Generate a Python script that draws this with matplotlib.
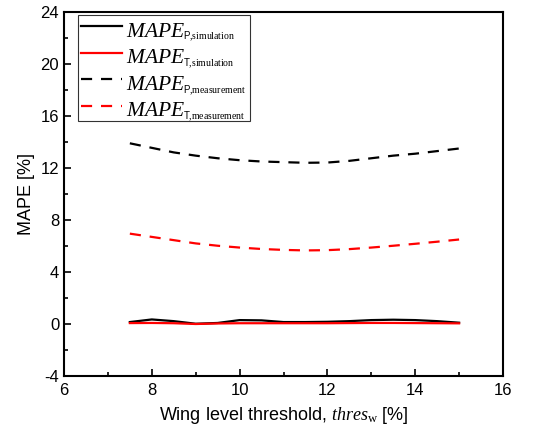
import numpy as np
import matplotlib
matplotlib.use('Agg')
import matplotlib.pyplot as plt
from matplotlib.ticker import MultipleLocator

plt.rcParams['font.family'] = 'Liberation Sans'
plt.rcParams['axes.unicode_minus'] = False
plt.rcParams['mathtext.fontset'] = 'custom'
plt.rcParams['mathtext.it'] = 'Liberation Serif:italic'
plt.rcParams['mathtext.rm'] = 'Liberation Serif'
plt.rcParams['mathtext.sf'] = 'Liberation Sans'

# 閾値 [%]
thres = [7.5, 8.0, 8.5, 9.0, 9.5, 10.0, 10.5, 11.0, 11.5, 12.0, 12.5, 13.0, 13.5, 14.0, 14.5, 15.0]
# シミュレーション
mape_p_sim = [0.15, 0.35, 0.22, 0.02, 0.08, 0.30, 0.28, 0.15, 0.15, 0.17, 0.22, 0.30, 0.33, 0.30, 0.22, 0.10]
mape_t_sim = [0.07, 0.08, 0.06, 0.00, 0.04, 0.06, 0.06, 0.06, 0.06, 0.06, 0.07, 0.08, 0.08, 0.07, 0.06, 0.05]
# 測定
mape_p_meas = [13.9, 13.55, 13.2, 12.95, 12.75, 12.6, 12.5, 12.45, 12.4, 12.42, 12.55, 12.75, 12.95, 13.1, 13.3, 13.5]
mape_t_meas = [6.95, 6.7, 6.45, 6.2, 6.02, 5.88, 5.77, 5.7, 5.66, 5.68, 5.76, 5.88, 6.02, 6.17, 6.33, 6.5]

# 凡例の添字
subs = [r'$\mathsf{P}{,}\mathrm{simulation}$', r'$\mathsf{T}{,}\mathrm{simulation}$',
        r'$\mathsf{P}{,}\mathrm{measurement}$', r'$\mathsf{T}{,}\mathrm{measurement}$']

fig = plt.figure(figsize=(5.38, 4.34), dpi=100, facecolor='white')
ax = fig.add_axes([64/538, 58/434, 439/538, 364/434])

lab = r'$\mathit{MAPE}$'
ax.plot(thres, mape_p_sim, color='black', lw=1.6, label=lab)
ax.plot(thres, mape_t_sim, color='red', lw=1.6, label=lab)
ax.plot(thres, mape_p_meas, color='black', lw=1.6, ls=(0, (5, 4)), label=lab)
ax.plot(thres, mape_t_meas, color='red', lw=1.6, ls=(0, (5, 4)), label=lab)

ax.set_xlim(6, 16)
ax.set_ylim(-4, 24)
ax.xaxis.set_major_locator(MultipleLocator(2))
ax.xaxis.set_minor_locator(MultipleLocator(1))
ax.yaxis.set_major_locator(MultipleLocator(4))
ax.yaxis.set_minor_locator(MultipleLocator(2))
ax.tick_params(which='both', direction='in', labelsize=12)
ax.tick_params(axis='x', which='major', pad=5)
ax.tick_params(which='major', length=5, width=1.2)
ax.tick_params(which='minor', length=3, width=1.2)
for s in ax.spines.values():
    s.set_linewidth(1.5)

ax.set_xlabel(r'Wing level threshold, $\mathit{thres}_{\mathrm{w}}$ [%]', fontsize=13, labelpad=5)
ax.set_ylabel('MAPE [%]', fontsize=13, labelpad=4)

leg = ax.legend(loc='upper left', bbox_to_anchor=(0.032, 0.0, 172/439, 0.992), mode='expand',
                borderaxespad=0, fontsize=15.5, frameon=True, fancybox=False, edgecolor='black',
                handlelength=1.9, borderpad=0.125, labelspacing=0.26, handletextpad=0.2)
leg.get_frame().set_linewidth(0.8)

# 凡例の文字を少し下げる
for t in leg.get_texts():
    t.set_position((0, -3))

# 添字を MAPE の後ろに置く
fig.canvas.draw()
r = fig.canvas.get_renderer()
for t, s in zip(leg.get_texts(), subs):
    bb = t.get_window_extent(r)
    _, _, d = r.get_text_width_height_descent('lp', t.get_fontproperties(), ismath=False)
    w, _, dm = r.get_text_width_height_descent(t.get_text(), t.get_fontproperties(), ismath=True)
    base = bb.y0 + max(d, dm)
    fig.text((bb.x0 + w - 2) / fig.bbox.width, (base - 3) / fig.bbox.height, s,
             fontsize=7, va='baseline', ha='left')

plt.savefig('out.png', dpi=100)
